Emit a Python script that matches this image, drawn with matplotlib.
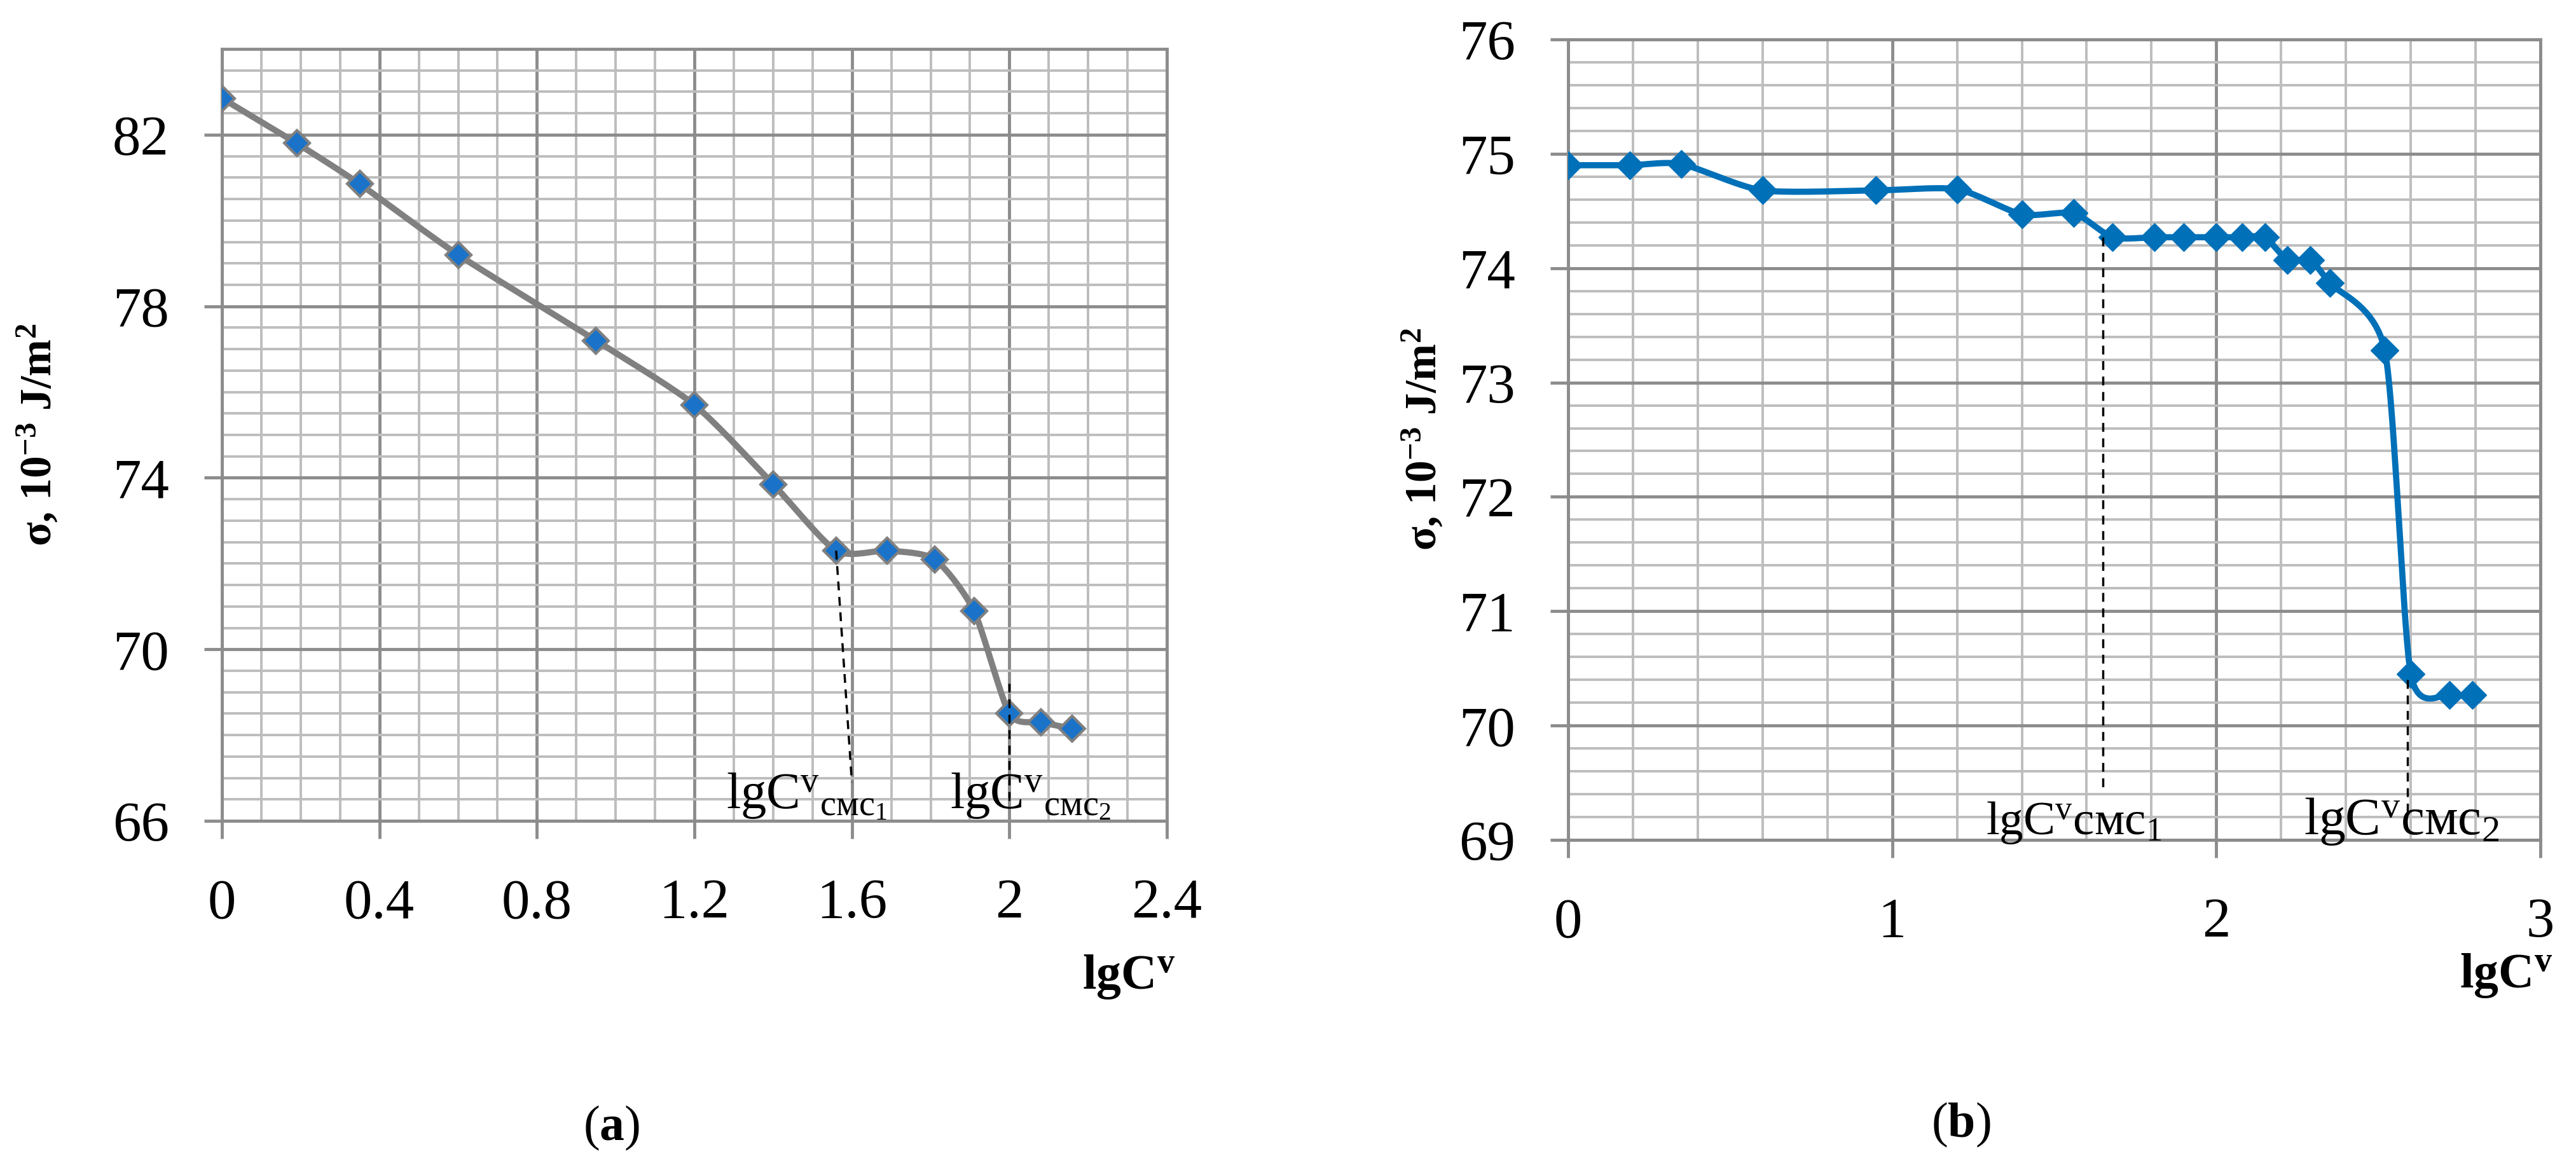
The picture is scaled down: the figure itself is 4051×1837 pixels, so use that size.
import numpy as np
import matplotlib
matplotlib.use('Agg')
import matplotlib.pyplot as plt
from matplotlib.ticker import MultipleLocator, FixedLocator

plt.rcParams['font.family'] = ['Liberation Serif', 'DejaVu Serif']
plt.rcParams['mathtext.fontset'] = 'custom'
plt.rcParams['mathtext.rm'] = 'Liberation Serif'
plt.rcParams['mathtext.it'] = 'Liberation Serif'
plt.rcParams['mathtext.bf'] = 'Liberation Serif:bold'

# data
lgc_a = [0, 0.19, 0.35, 0.6, 0.95, 1.2, 1.4, 1.56, 1.69, 1.81, 1.91, 2.0, 2.08, 2.16]
sigma_a = [82.85, 81.8, 80.85, 79.2, 77.2, 75.7, 73.85, 72.3, 72.3, 72.1, 70.9, 68.5, 68.3, 68.15]
yticks_a = [66, 70, 74, 78, 82]

lgc_b = [0, 0.19, 0.35, 0.6, 0.95, 1.2, 1.4, 1.56, 1.68, 1.81, 1.9, 2.0, 2.08, 2.15,
         2.22, 2.29, 2.35, 2.52, 2.6, 2.72, 2.79]
sigma_b = [74.9, 74.9, 74.91, 74.68, 74.68, 74.69, 74.47, 74.48, 74.27, 74.27, 74.27, 74.27, 74.27, 74.27,
           74.07, 74.07, 73.87, 73.28, 70.45, 70.27, 70.27]

cmc_a = [(1.56, 72.3, 1.6, 66.9), (2.0, 69.2, 2.0, 66.3)]
cmc_b = [(1.65, 74.27, 1.65, 69.45), (2.59, 70.4, 2.59, 69.2)]

W, H = 4051, 1837
MAJ = '#8c8c8c'
MIN = '#bdbdbd'


# Catmull-Rom smoothing of the drawn line (like Excel's smoothed line)
def smooth(x, y, n=20, k=0.35):
    x = np.asarray(x, float)
    y = np.asarray(y, float)
    px = np.concatenate([[x[0]], x, [x[-1]]])
    py = np.concatenate([[y[0]], y, [y[-1]]])
    xs, ys = [], []
    t = np.linspace(0, 1, n)
    h00 = 2 * t ** 3 - 3 * t ** 2 + 1
    h10 = t ** 3 - 2 * t ** 2 + t
    h01 = -2 * t ** 3 + 3 * t ** 2
    h11 = t ** 3 - t ** 2
    for i in range(1, len(px) - 2):
        for p, out in ((px, xs), (py, ys)):
            m1 = k * (p[i + 1] - p[i - 1])
            m2 = k * (p[i + 2] - p[i])
            out.extend(h00 * p[i] + h10 * m1 + h01 * p[i + 1] + h11 * m2)
    return xs, ys


def setup(ax, xmaj, xmin, ymaj, ymin, xlim, ylim):
    ax.set_xlim(*xlim)
    ax.set_ylim(*ylim)
    ax.xaxis.set_major_locator(MultipleLocator(xmaj))
    ax.xaxis.set_minor_locator(MultipleLocator(xmin))
    ax.yaxis.set_major_locator(MultipleLocator(ymaj))
    ax.yaxis.set_minor_locator(MultipleLocator(ymin))
    ax.grid(True, which='minor', color=MIN, lw=2.8, zorder=0)
    ax.grid(True, which='major', color=MAJ, lw=3.5, zorder=0)
    for s in ax.spines.values():
        s.set_color(MAJ)
        s.set_linewidth(3.5)
    ax.tick_params(which='major', length=20, width=3.5, color=MAJ, labelsize=64)
    ax.tick_params(axis='x', pad=45)
    ax.tick_params(axis='y', pad=40)
    ax.tick_params(which='minor', length=0)
    ax.set_axisbelow(True)


fig = plt.figure(figsize=(W / 100, H / 100), dpi=100)

# (a)
ax1 = fig.add_axes([349 / W, 1 - 1291 / H, 1486 / W, 1214 / H])
setup(ax1, 0.4, 0.1, 4, 0.5, (0, 2.4), (66, 84))
ax1.yaxis.set_major_locator(FixedLocator(yticks_a))
ax1.xaxis.set_major_formatter(plt.FuncFormatter(lambda v, p: ('%.1f' % v).rstrip('0').rstrip('.')))
xs, ys = smooth(lgc_a, sigma_a)
ax1.plot(xs, ys, color='#808080', lw=7, zorder=3)
ax1.plot(lgc_a, sigma_a, ls='none', marker='D', ms=20, mfc='#1a73c8', mec='#808080', mew=3, zorder=4)
for x0, y0, x1, y1 in cmc_a:
    ax1.plot([x0, x1], [y0, y1], color='black', ls=(0, (4, 3)), lw=2.5, zorder=5)
ax1.text(1.28, 66.3, 'lgC$^{v}$$_{\\mathrm{смс}_1}$', fontsize=58, zorder=6)
ax1.text(1.85, 66.3, 'lgC$^{v}$$_{\\mathrm{смс}_2}$', fontsize=58, zorder=6)

# (b)
ax2 = fig.add_axes([2466 / W, 1 - 1321 / H, 1529 / W, 1259 / H])
setup(ax2, 1, 0.2, 1, 0.2, (0, 3), (69, 76))
xs, ys = smooth(lgc_b, sigma_b)
ax2.plot(xs, ys, color='#0070b8', lw=7, zorder=3)
ax2.plot(lgc_b, sigma_b, ls='none', marker='D', ms=22, mfc='#0070b8', mec='#0070b8', zorder=4)
for x0, y0, x1, y1 in cmc_b:
    ax2.plot([x0, x1], [y0, y1], color='black', ls=(0, (4, 3)), lw=2.5, zorder=5)
ax2.text(1.29, 69.05, 'lgC$^{v}$смс$_1$', fontsize=54, zorder=6)
ax2.text(2.27, 69.05, 'lgC$^{v}$смс$_2$', fontsize=60, zorder=6)

ylab = 'σ, 10$^{\\mathbf{-3}}$ J/m$^{\\mathbf{2}}$'
fig.text(60 / W, 1 - 684 / H, ylab, rotation=90, fontsize=50, fontweight='bold', ha='center', va='center')
fig.text(2238 / W, 1 - 691 / H, ylab, rotation=90, fontsize=50, fontweight='bold', ha='center', va='center')
fig.text(1848 / W, 1 - 1537 / H, 'lgC$^{\\mathbf{v}}$', fontsize=56, fontweight='bold', ha='right', va='center')
fig.text(4014 / W, 1 - 1535 / H, 'lgC$^{\\mathbf{v}}$', fontsize=56, fontweight='bold', ha='right', va='center')
fig.text(962 / W, 1 - 1774 / H, '($\\mathbf{a}$)', fontsize=56, ha='center', va='center')
fig.text(3084 / W, 1 - 1769 / H, '($\\mathbf{b}$)', fontsize=56, ha='center', va='center')

fig.savefig('out.png', dpi=100, facecolor='white')
